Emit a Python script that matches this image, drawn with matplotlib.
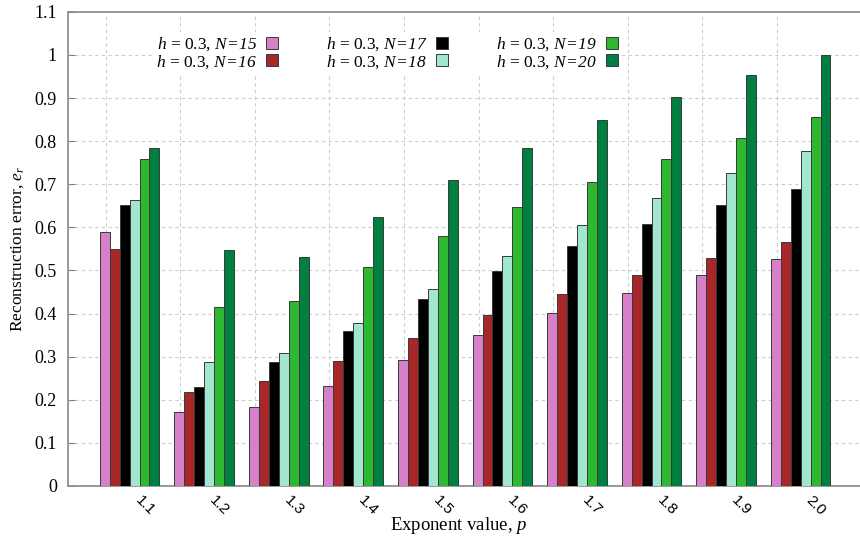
import numpy as np
import matplotlib
matplotlib.use('Agg')
import matplotlib.pyplot as plt

plt.rcParams['font.family'] = ['Liberation Serif', 'DejaVu Serif']
plt.rcParams['mathtext.fontset'] = 'custom'
plt.rcParams['mathtext.rm'] = 'Liberation Serif:italic'
plt.rcParams['mathtext.it'] = 'Liberation Serif:italic'

# exponent values (categories)
exponents = ['1.1', '1.2', '1.3', '1.4', '1.5', '1.6', '1.7', '1.8', '1.9', '2.0']

# reconstruction error for each N
n15 = [0.589, 0.172, 0.183, 0.233, 0.293, 0.350, 0.401, 0.447, 0.489, 0.527]
n16 = [0.550, 0.219, 0.244, 0.291, 0.344, 0.397, 0.446, 0.490, 0.530, 0.567]
n17 = [0.651, 0.229, 0.288, 0.360, 0.433, 0.499, 0.557, 0.607, 0.651, 0.690]
n18 = [0.664, 0.288, 0.309, 0.378, 0.457, 0.534, 0.606, 0.669, 0.726, 0.778]
n19 = [0.758, 0.416, 0.429, 0.507, 0.581, 0.647, 0.706, 0.759, 0.808, 0.855]
n20 = [0.783, 0.548, 0.532, 0.625, 0.709, 0.783, 0.848, 0.903, 0.954, 1.000]

series = [n15, n16, n17, n18, n19, n20]
labels = [r'$h$ = 0.3, $\mathrm{N\!=\!%d}$' % n for n in range(15, 21)]
colors = ['#d680c9', '#a8282a', '#000000', '#a2e6cf', '#2db82f', '#008040']

fig = plt.figure(figsize=(8.6, 5.37), dpi=100)
ax = fig.add_axes([0.079, 0.095, 0.93, 0.883])

x = np.arange(len(exponents))
w = 1 / 7.5
for j, (vals, col, lab) in enumerate(zip(series, colors, labels)):
    ax.bar(x - 3 * w + j * w, vals, width=w, align='edge', color=col,
           edgecolor='#3a3a3a', linewidth=0.7, label=lab, zorder=3)

# dashed grid; vertical lines sit left of each group as in the original
for xi in x:
    ax.axvline(xi - 0.32, color='#cccccc', linestyle=(0, (3, 3)), linewidth=0.8, zorder=0)
ax.yaxis.grid(True, color='#cccccc', linestyle=(0, (3, 3)), linewidth=0.8, zorder=0)
ax.set_axisbelow(True)

ax.set_xlim(-0.827, 9.9)
ax.set_ylim(0, 1.1)
ax.set_yticks(np.arange(0, 1.11, 0.1))
ax.set_yticklabels(['0', '0.1', '0.2', '0.3', '0.4', '0.5', '0.6', '0.7', '0.8', '0.9', '1', '1.1'])
# labels hang a little right of each group centre, as gnuplot drew them
ax.set_xticks(x + 0.17)
ax.set_xticklabels(exponents, rotation=-45, ha='left', va='top', rotation_mode='anchor',
                   family='Liberation Sans', fontsize=11)
ax.tick_params(axis='x', length=0, pad=5)
ax.tick_params(axis='y', direction='in', length=5, color='#808080', pad=8, labelsize=13)

for s in ['left', 'bottom', 'top']:
    ax.spines[s].set_color('#909090')
    ax.spines[s].set_linewidth(1.3)
ax.spines['right'].set_visible(False)

ax.set_xlabel(r'Exponent value, $p$', fontsize=13.5)
ax.xaxis.set_label_coords(0.489, -0.062)
ax.set_ylabel(r'Reconstruction error, $e_r$', fontsize=12.5, labelpad=6)

leg = ax.legend(ncol=3, loc='upper left', bbox_to_anchor=(0.095, 0.976), markerfirst=False,
                fontsize=12.5, frameon=True, fancybox=False, framealpha=1, edgecolor='none',
                handlelength=0.7, handleheight=0.7, handletextpad=0.5, columnspacing=2.75,
                labelspacing=0.0, borderpad=0.2)
leg.set_zorder(5)

fig.savefig('out.png', dpi=100)
